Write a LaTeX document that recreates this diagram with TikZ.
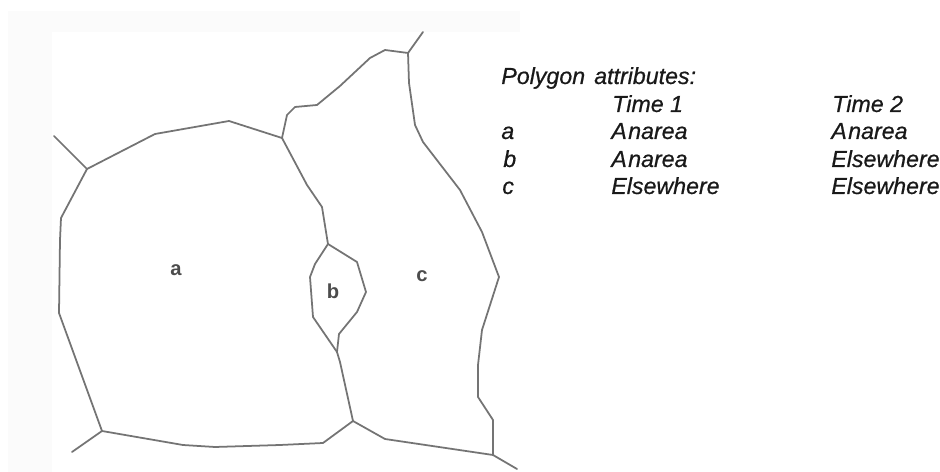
\documentclass[tikz,border=0pt]{standalone}
\usepackage{fontspec}
\setmainfont{Liberation Sans}
\newfontface\tabfont[FakeBold=0.6]{Liberation Sans Italic}
\definecolor{edgegray}{HTML}{747474}
\definecolor{framegray}{HTML}{FBFBFB}
\tikzset{
  edge/.style={draw=edgegray, line width=1pt, line join=round, line cap=round},
  maplabel/.style={font=\fontsize{11.5}{13}\selectfont\bfseries, text=black!70},
  tablabel/.style={anchor=base west, font=\fontsize{13.2}{15}\selectfont\tabfont, text=black!90}
}

\begin{document}
\begin{tikzpicture}[x=0.02cm,y=-0.02cm,every node/.style={inner sep=0pt}]
                \useasboundingbox (0,0) rectangle (940,472);
                \fill[framegray] (8,11) rectangle (520,472);
                \fill[white] (52,32) rectangle (520,472);

                \coordinate (j1) at (87,169);
                \coordinate (j2) at (282,138);
                \coordinate (j3) at (102,431);
                \coordinate (j4) at (353,421);
                \coordinate (j5) at (408,53);
                \coordinate (j6) at (328,244);
                \coordinate (j7) at (493,455);
                \coordinate (j8) at (337,352);
                \coordinate (endnw) at (54,136);
                \coordinate (endsw) at (72,452);
                \coordinate (endn) at (423,32);
                \coordinate (ende) at (517,469);

                \draw[edge] (endnw) -- (j1);
                \draw[edge] (endsw) -- (j3);
                \draw[edge] (endn) -- (j5);
                \draw[edge] (ende) -- (j7);

                \draw[edge] (j1) -- (155,134) -- (229,121) -- (j2);
                \draw[edge] (j1) -- (61,218) -- (60,240) -- (59,313) -- (j3);
                \draw[edge] (j3) -- (183,445) -- (215,447) -- (280,445) -- (323,443) -- (j4);
                \draw[edge] (j2) -- (287,115) -- (295,107) -- (317,105) -- (340,86) -- (370,58) -- (385,50) -- (j5);
                \draw[edge] (j2) -- (307,185) -- (322,207) -- (327,238) -- (j6);
                \draw[edge] (j5) -- (409,83) -- (415,125) -- (423,142) -- (460,190) -- (482,232) -- (499,277) -- (482,330) -- (478,365) -- (478,397) -- (493,420) -- (j7);
                \draw[edge] (j4) -- (385,439) -- (j7);
                \draw[edge] (j6) -- (357,262) -- (366,292) -- (357,312) -- (339,334) -- (j8);
                \draw[edge] (j6) -- (315,264) -- (310,277) -- (313,317) -- (j8);
                \draw[edge] (j8) -- (340,362) -- (j4);

                \node[maplabel] (mapa) at (176,270) {a};
                \node[maplabel] (mapb) at (333,291) {b};
                \node[maplabel] (mapc) at (422,276) {c};

                \node[tablabel] (title) at (501,84) {Polygon\kern1.5pt{} attributes:};
                \node[tablabel] (timeone) at (612,112) {Time 1};
                \node[tablabel] (timetwo) at (832,112) {Time 2};
                \node[tablabel] (rowa) at (501,139) {a};
                \node[tablabel] (rowb) at (503,167) {b};
                \node[tablabel] (rowc) at (502,194) {c};
                \node[tablabel] (aone) at (611,139) {A\kern0.8pt narea};
                \node[tablabel] (atwo) at (831,139) {A\kern0.8pt narea};
                \node[tablabel] (bone) at (611,167) {A\kern0.8pt narea};
                \node[tablabel] (btwo) at (831,167) {Elsewhere};
                \node[tablabel] (cone) at (611,194) {Elsewhere};
                \node[tablabel] (ctwo) at (831,194) {Elsewhere};
            \end{tikzpicture}
\end{document}
